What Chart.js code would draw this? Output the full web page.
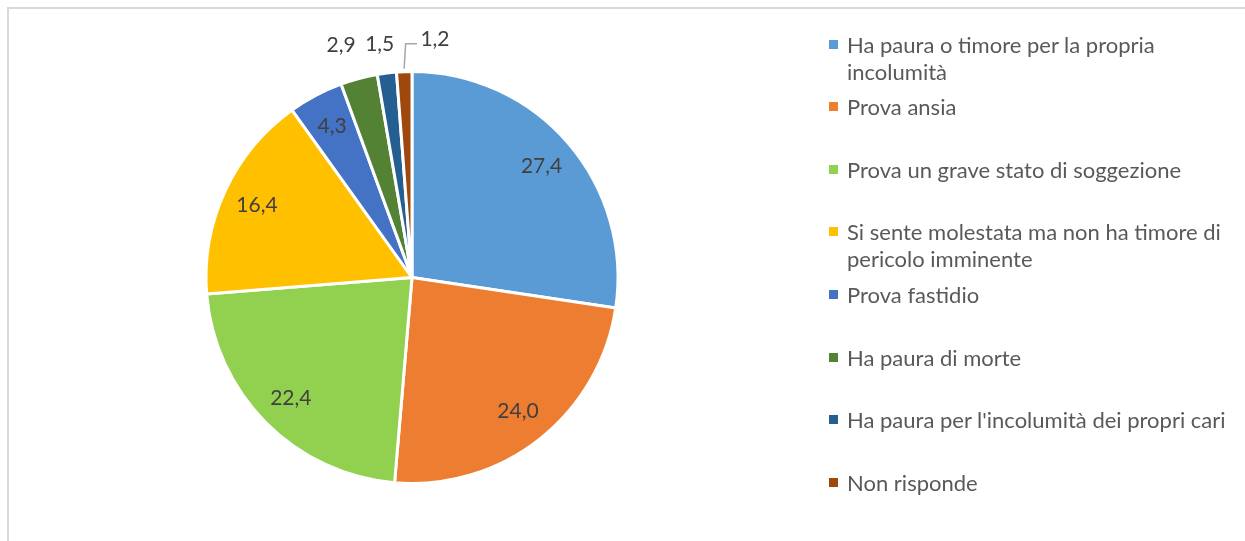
<!DOCTYPE html>
<html>
<head>
<meta charset="utf-8">
<script src="https://cdn.jsdelivr.net/npm/chart.js@4.4.0/dist/chart.umd.min.js"></script>
<style>
  html, body { margin: 0; padding: 0; background: #fff; }
  #wrap { position: relative; width: 1245px; height: 541px; overflow: hidden; font-family: Lato, "Open Sans", sans-serif; }
  #frame { position: absolute; left: 7px; top: 7px; width: 1300px; height: 600px; border-left: 2px solid #d9d9d9; border-top: 2px solid #d9d9d9; }
  #chartBox { position: absolute; left: 0; top: 0; width: 1245px; height: 541px; }
  .leg { position: absolute; left: 829px; width: 414px; }
  .leg .sw { position: absolute; left: 0; top: 9px; width: 9px; height: 9px; }
  .leg .tx { margin-left: 18px; width: 394px; font-size: 22px; line-height: 27px; color: #595959; }
</style>
</head>
<body>
<div id="wrap">
  <div id="frame"></div>
  <div id="chartBox"><canvas id="myChart"></canvas></div>
  <div id="legend"></div>
</div>
<script>
let labels = [
  'Ha paura o timore per la propria incolumità',
  'Prova ansia',
  'Prova un grave stato di soggezione',
  'Si sente molestata ma non ha timore di pericolo imminente',
  'Prova fastidio',
  'Ha paura di morte',
  "Ha paura per l'incolumità dei propri cari",
  'Non risponde'
]
let values = [27.4, 24.0, 22.4, 16.4, 4.3, 2.9, 1.5, 1.2]
let colors = ['#5B9BD5', '#ED7D31', '#92D050', '#FFC000', '#4472C4', '#548235', '#255E91', '#9E480E']

// small slices get their label outside, shifted a bit like excel does
const outsideShift = {5: [-9, 0], 6: [-3, 5], 7: [32, 2]}

const fmt = function (v) {
  return v.toFixed(1).replace('.', ',')
}

const pieLabels = {
  id: 'pieLabels',
  afterDatasetsDraw (chart) {
    const ctx = chart.ctx
    const meta = chart.getDatasetMeta(0)
    ctx.save()
    ctx.font = '21px Lato, "Open Sans", sans-serif'
    ctx.fillStyle = '#404040'
    ctx.textAlign = 'center'
    ctx.textBaseline = 'middle'
    meta.data.forEach((arc, i) => {
      const p = arc.getProps(['x', 'y', 'startAngle', 'endAngle', 'outerRadius'], true)
      const mid = (p.startAngle + p.endAngle) / 2
      let r = p.outerRadius * 0.83
      let x, y
      if (outsideShift[i]) {
        r = p.outerRadius + 34
        x = p.x + Math.cos(mid) * r + outsideShift[i][0]
        y = p.y + Math.sin(mid) * r + outsideShift[i][1]
        if (i === 7) {
          // leader line
          const ex = p.x + Math.cos(mid) * (p.outerRadius + 3)
          const ey = p.y + Math.sin(mid) * (p.outerRadius + 3)
          ctx.strokeStyle = '#a6a6a6'
          ctx.lineWidth = 1.5
          ctx.beginPath()
          ctx.moveTo(ex, ey)
          ctx.lineTo(ex + 1.5, y + 4)
          ctx.lineTo(x - 18, y + 4)
          ctx.stroke()
        }
      } else {
        x = p.x + Math.cos(mid) * r
        y = p.y + Math.sin(mid) * r
      }
      ctx.fillText(fmt(values[i]), x, y)
    })
    ctx.restore()
  }
}

const buildLegend = function () {
  let str = ''
  labels.forEach((l, i) => {
    const top = 44 + 62.6 * i - 13.5
    str += `<div class="leg" style="top:${top}px"><div class="sw" style="background:${colors[i]}"></div><div class="tx">${l}</div></div>`
  })
  document.getElementById('legend').innerHTML = str
}

const showChart = function () {
  let ctx = document.getElementById('myChart').getContext('2d')
  new Chart(ctx, {
    type: 'pie',
    data: {
      labels: labels,
      datasets: [{
        data: values,
        backgroundColor: colors,
        borderColor: '#ffffff',
        borderWidth: 3
      }]
    },
    options: {
      responsive: true,
      maintainAspectRatio: false,
      animation: false,
      layout: {
        padding: {left: 0, right: 421, top: 70, bottom: 56}
      },
      plugins: {
        legend: {display: false},
        tooltip: {enabled: false}
      }
    },
    plugins: [pieLabels]
  })
}

buildLegend()
showChart()
</script>
</body>
</html>
